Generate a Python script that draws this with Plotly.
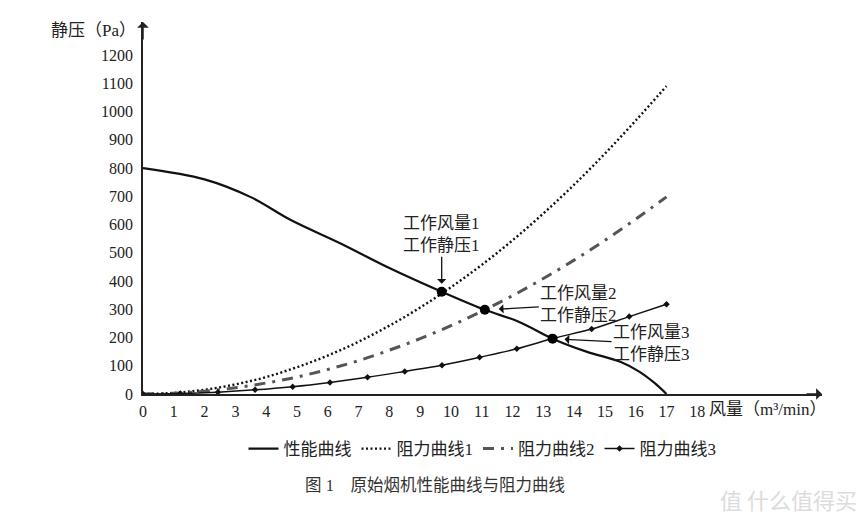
import plotly.graph_objects as go

# ---- data ----
perf_x = [0, 2, 3.5, 4.8, 6.4, 8, 9.7, 11.1, 12.2, 13.3, 14.4, 15.5, 16.1, 16.6, 17]
perf_y = [800, 760, 697, 616, 534, 446, 362, 298, 256, 196, 150, 114, 80, 40, 0]

res1_x = [0, 1, 2, 3, 4, 5, 6, 7, 8, 9, 10, 11, 12, 13, 14, 15, 16, 17]
res1_y = [0, 4, 15, 34, 60, 95, 136, 185, 242, 306, 378, 457, 544, 639, 741, 851, 968, 1090]

res2_x = [0, 1, 2, 3, 4, 5, 6, 7, 8, 9, 10, 11, 12, 13, 14, 15, 16, 17]
res2_y = [0, 2.4, 10, 22, 39, 60, 87, 118, 155, 196, 242, 293, 348, 409, 474, 544, 619, 698]

res3_x = [0, 1.21, 2.43, 3.64, 4.86, 6.07, 7.29, 8.5, 9.71, 10.93, 12.14, 13.36, 14.57, 15.79, 17]
res3_y = [0, 1.6, 6.5, 14.7, 26, 41, 59, 80, 102, 130, 160, 198, 230, 274, 318]

work_x = [9.7, 11.1, 13.3]
work_y = [362, 298, 196]
work_labels = ["工作风量1<br>工作静压1", "工作风量2<br>工作静压2", "工作风量3<br>工作静压3"]

x_ticks = list(range(0, 19))
y_ticks = list(range(0, 1300, 100))

series_names = ["性能曲线", "阻力曲线1", "阻力曲线2", "阻力曲线3"]

FONT = "Liberation Serif, Times New Roman, Noto Sans CJK SC"

fig = go.Figure()
fig.add_trace(go.Scatter(x=perf_x, y=perf_y, mode="lines", name=series_names[0],
                         line=dict(color="#111", width=2.2, shape="spline", smoothing=1.0)))
fig.add_trace(go.Scatter(x=res1_x, y=res1_y, mode="lines", name=series_names[1],
                         line=dict(color="#111", width=2.4, dash="2px,2.5px", shape="spline")))
fig.add_trace(go.Scatter(x=res2_x, y=res2_y, mode="lines", name=series_names[2],
                         line=dict(color="#555", width=3, dash="11px,7px,3px,7px", shape="spline")))
fig.add_trace(go.Scatter(x=res3_x, y=res3_y, mode="lines+markers", name=series_names[3],
                         line=dict(color="#111", width=1.5, shape="spline"),
                         marker=dict(color="#111", size=5, symbol="diamond")))
fig.add_trace(go.Scatter(x=work_x, y=work_y, mode="markers", showlegend=False,
                         marker=dict(color="#000", size=10)))

annotations = []
offsets = [(0, -57, 8), (94, -5, 14), (99, 5, 12)]
for (wx, wy, lab, (ax, ay, so)) in zip(work_x, work_y, work_labels, offsets):
    annotations.append(dict(x=wx, y=wy, xref="x", yref="y", text=lab, showarrow=True,
                            ax=ax, ay=ay, arrowhead=1, arrowsize=1.2, arrowwidth=1.3,
                            arrowcolor="#111", standoff=so, align="left",
                            font=dict(family=FONT, size=17, color="#222")))

# axis arrows
annotations.append(dict(x=0, y=1317, xref="x", yref="y", ax=0, ay=1250, axref="x", ayref="y",
                        text="", showarrow=True, arrowhead=1, arrowsize=1.3, arrowwidth=1.5,
                        arrowcolor="#222"))
annotations.append(dict(x=22.05, y=0, xref="x", yref="y", ax=21.5, ay=0, axref="x", ayref="y",
                        text="", showarrow=True, arrowhead=1, arrowsize=1.3, arrowwidth=1.5,
                        arrowcolor="#222"))
# axis titles
annotations.append(dict(x=-0.007, y=1.0, xref="paper", yref="paper", xanchor="right", yanchor="middle",
                        yshift=-8, text="静压（Pa）", showarrow=False,
                        font=dict(family=FONT, size=17, color="#222")))
annotations.append(dict(x=18.3, y=0, xref="x", yref="y", xanchor="left", yanchor="middle", yshift=-15,
                        text="风量（m³/min）", showarrow=False,
                        font=dict(family=FONT, size=17, color="#222")))
# caption
annotations.append(dict(x=0.43, y=-0.245, xref="paper", yref="paper", xanchor="center", yanchor="middle",
                        text="图 1　原始烟机性能曲线与阻力曲线", showarrow=False,
                        font=dict(family=FONT, size=16.5, color="#333")))
# watermark
annotations.append(dict(x=1.055, y=-0.282, xref="paper", yref="paper", xanchor="right", yanchor="middle",
                        text="值 什么值得买", showarrow=False,
                        font=dict(family="Noto Sans CJK SC", size=22, color="#dcdcdc")))

for a in annotations:
    fig.add_annotation(**a)

fig.update_layout(
    width=865, height=525,
    margin=dict(l=143, r=43, t=22, b=131),
    plot_bgcolor="white", paper_bgcolor="white",
    font=dict(family=FONT, size=15, color="#222"),
    showlegend=True,
    legend=dict(orientation="h", x=0.5, xanchor="center", y=-0.148, yanchor="middle",
                font=dict(family=FONT, size=17, color="#222"), itemwidth=30,
                bgcolor="rgba(0,0,0,0)"),
    xaxis=dict(range=[0, 22.05], tickvals=x_ticks, ticktext=[str(v) for v in x_ticks],
               showgrid=False, zeroline=False, showline=True, linecolor="#222", linewidth=1.5,
               ticks="", ticklabelstandoff=2, tickfont=dict(size=16)),
    yaxis=dict(range=[0, 1317], tickvals=y_ticks, ticktext=[str(v) for v in y_ticks],
               showgrid=False, zeroline=False, showline=True, linecolor="#222", linewidth=1.5,
               ticks="", ticklabelstandoff=5, tickfont=dict(size=16)),
)

fig.write_html("out.html")
